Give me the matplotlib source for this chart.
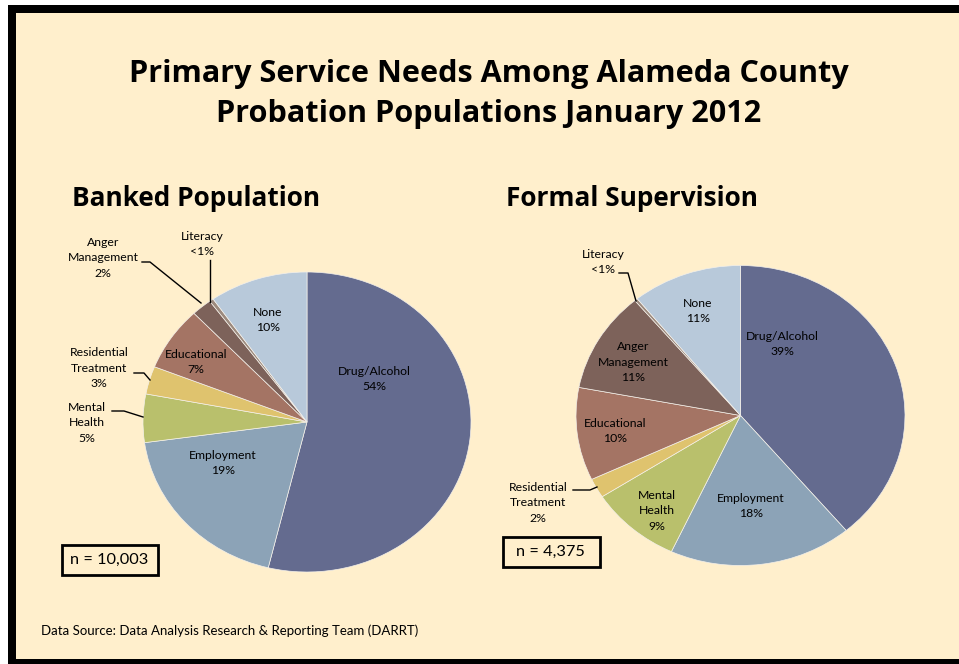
import matplotlib
matplotlib.use("Agg")
import matplotlib.pyplot as plt
from matplotlib.patches import Rectangle
from matplotlib.lines import Line2D

# ---------------- data ----------------
categories = ["Drug/Alcohol", "Employment", "Mental Health", "Residential Treatment",
              "Educational", "Anger Management", "Literacy", "None"]
banked_values = [53.8, 19.0, 5.2, 3.0, 6.9, 2.0, 0.4, 9.7]
banked_pct_labels = ["54%", "19%", "5%", "3%", "7%", "2%", "<1%", "10%"]
formal_values = [38.9, 18.0, 9.0, 2.1, 10.0, 10.9, 0.3, 10.8]
formal_pct_labels = ["39%", "18%", "9%", "2%", "10%", "11%", "<1%", "11%"]
banked_n = "n = 10,003"
formal_n = "n = 4,375"
title_lines = ["Primary Service Needs Among Alameda County", "Probation Populations January 2012"]
subtitles = ["Banked Population", "Formal Supervision"]
source = "Data Source: Data Analysis Research & Reporting Team (DARRT)"

colors = ["#646B8F", "#8CA3B7", "#B9C06C", "#DFC36E", "#A47464", "#7D625A", "#9C8A7E", "#B8C9DA"]
CREAM = "#FFEFCC"

W, H = 959, 664
plt.rcParams['font.family'] = ['Lato', 'DejaVu Sans']
fig = plt.figure(figsize=(W / 100, H / 100), dpi=100)
fig.patch.set_facecolor("white")


def fx(x):
    return x / W


def fy(y):
    return 1 - y / H


# frame and background
fig.add_artist(Rectangle((fx(8), fy(664)), fx(960 - 8), (664 - 5) / H, transform=fig.transFigure,
                         facecolor="black", edgecolor="none", zorder=0))
fig.add_artist(Rectangle((fx(16), fy(659)), fx(960 - 16), (659 - 13) / H, transform=fig.transFigure,
                         facecolor=CREAM, edgecolor="none", zorder=0))

# titles
BOLD = ['Open Sans', 'DejaVu Sans']
fig.text(fx(489), fy(82), title_lines[0], ha="center", va="baseline", fontsize=22.1, fontweight="bold",
         family=BOLD)
fig.text(fx(489), fy(122), title_lines[1], ha="center", va="baseline", fontsize=22.1, fontweight="bold",
         family=BOLD)
fig.text(fx(196), fy(206), subtitles[0], ha="center", va="baseline", fontsize=18.9, fontweight="bold",
         family=BOLD)
fig.text(fx(632.5), fy(206), subtitles[1], ha="center", va="baseline", fontsize=18.9, fontweight="bold",
         family=BOLD)
fig.text(fx(41), fy(635), source, ha="left", va="baseline", fontsize=9.5)


def make_pie(cx, cy, rx, ry, values):
    ax = fig.add_axes([fx(cx - rx), fy(cy + ry), 2 * rx / W, 2 * ry / H])
    ax.pie(values, colors=colors, startangle=90, counterclock=False, radius=1,
           wedgeprops=dict(edgecolor="#F4F0EA", linewidth=0.5))
    ax.set_aspect("auto")
    ax.set_xlim(-1, 1)
    ax.set_ylim(-1, 1)
    ax.axis("off")
    return ax


make_pie(307, 422, 164, 150, banked_values)
make_pie(740.5, 415.5, 164.5, 150, formal_values)

LFS = 8.8


def label(x, y, txt):
    fig.text(fx(x), fy(y), txt, ha="center", va="center", fontsize=LFS, linespacing=1.48)


def leader(pts):
    xs = [fx(p[0]) for p in pts]
    ys = [fy(p[1]) for p in pts]
    fig.add_artist(Line2D(xs, ys, transform=fig.transFigure, color="black", linewidth=1.0))


# Banked labels
b = banked_pct_labels
label(374, 379, "Drug/Alcohol\n" + b[0])
label(223, 463, "Employment\n" + b[1])
label(87, 423, "Mental\nHealth\n" + b[2])
label(99, 368, "Residential\nTreatment\n" + b[3])
label(196, 362, "Educational\n" + b[4])
label(103, 258, "Anger\nManagement\n" + b[5])
label(202, 244, "Literacy\n" + b[6])
label(268, 320, "None\n" + b[7])
leader([(112, 411), (124, 411), (143, 417)])
leader([(134, 373), (144, 373), (150, 380)])
leader([(142, 262), (150, 262), (201, 303)])
leader([(210, 260), (210, 302)])

# Formal labels
f = formal_pct_labels
label(782, 344, "Drug/Alcohol\n" + f[0])
label(751, 506, "Employment\n" + f[1])
label(657, 511, "Mental\nHealth\n" + f[2])
label(538, 503, "Residential\nTreatment\n" + f[3])
label(615, 431, "Educational\n" + f[4])
label(633, 362, "Anger\nManagement\n" + f[5])
label(603, 262, "Literacy\n" + f[6])
label(698, 311, "None\n" + f[7])
leader([(573, 490), (590, 490), (597, 487)])
leader([(619, 273), (628, 273), (636, 301)])

# n boxes
for (x0, y0, x1, y1, txt) in [(62, 545, 158, 575, banked_n), (503, 537, 600, 567, formal_n)]:
    fig.add_artist(Rectangle((fx(x0), fy(y1)), (x1 - x0) / W, (y1 - y0) / H, transform=fig.transFigure,
                             facecolor="none", edgecolor="black", linewidth=2.0))
    fig.text(fx((x0 + x1) / 2 - 1), fy((y0 + y1) / 2), txt, ha="center", va="center", fontsize=11.8)

fig.savefig("out.png", dpi=100, facecolor=fig.get_facecolor())
